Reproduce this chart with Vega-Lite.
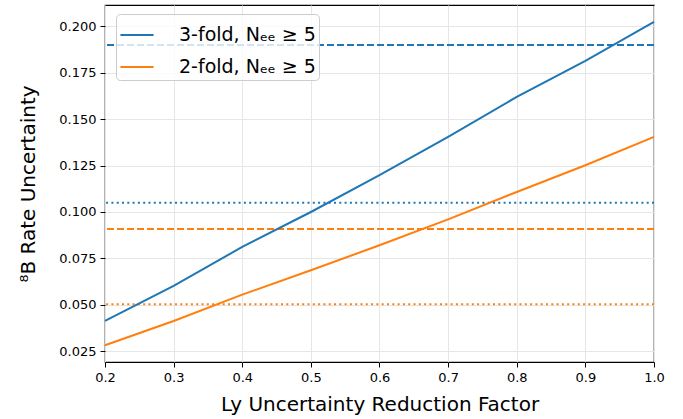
{
  "$schema": "https://vega.github.io/schema/vega-lite/v6.json",
  "width": 549,
  "height": 357,
  "autosize": "none",
  "padding": {"left": 105, "top": 5, "right": 29, "bottom": 57},
  "background": "white",
  "config": {
    "font": "DejaVu Sans",
    "view": {"stroke": "black", "strokeWidth": 1.2},
    "axis": {
      "domain": false,
      "grid": true,
      "gridColor": "#e6e6e6",
      "gridWidth": 1,
      "tickColor": "black",
      "tickSize": 5,
      "tickWidth": 1,
      "labelColor": "black",
      "labelFont": "DejaVu Sans",
      "labelFontSize": 13,
      "labelFlush": false,
      "titleFont": "DejaVu Sans",
      "titleFontSize": 20,
      "titleFontWeight": "normal",
      "titleColor": "black"
    }
  },
  "datasets": {
    "lines": [
      {"x": 0.2, "y": 0.0413, "series": "3-fold, Nₑₑ ≥ 5"},
      {"x": 0.3, "y": 0.0602, "series": "3-fold, Nₑₑ ≥ 5"},
      {"x": 0.4, "y": 0.0812, "series": "3-fold, Nₑₑ ≥ 5"},
      {"x": 0.5, "y": 0.1000, "series": "3-fold, Nₑₑ ≥ 5"},
      {"x": 0.6, "y": 0.1198, "series": "3-fold, Nₑₑ ≥ 5"},
      {"x": 0.7, "y": 0.1405, "series": "3-fold, Nₑₑ ≥ 5"},
      {"x": 0.8, "y": 0.1620, "series": "3-fold, Nₑₑ ≥ 5"},
      {"x": 0.9, "y": 0.1814, "series": "3-fold, Nₑₑ ≥ 5"},
      {"x": 1.0, "y": 0.2024, "series": "3-fold, Nₑₑ ≥ 5"},
      {"x": 0.2, "y": 0.0282, "series": "2-fold, Nₑₑ ≥ 5"},
      {"x": 0.3, "y": 0.0413, "series": "2-fold, Nₑₑ ≥ 5"},
      {"x": 0.4, "y": 0.0555, "series": "2-fold, Nₑₑ ≥ 5"},
      {"x": 0.5, "y": 0.0686, "series": "2-fold, Nₑₑ ≥ 5"},
      {"x": 0.6, "y": 0.0821, "series": "2-fold, Nₑₑ ≥ 5"},
      {"x": 0.7, "y": 0.0960, "series": "2-fold, Nₑₑ ≥ 5"},
      {"x": 0.8, "y": 0.1108, "series": "2-fold, Nₑₑ ≥ 5"},
      {"x": 0.9, "y": 0.1252, "series": "2-fold, Nₑₑ ≥ 5"},
      {"x": 1.0, "y": 0.1405, "series": "2-fold, Nₑₑ ≥ 5"}
    ],
    "rules": [
      {"y": 0.190, "series": "3-fold, Nₑₑ ≥ 5", "style": "dashed"},
      {"y": 0.105, "series": "3-fold, Nₑₑ ≥ 5", "style": "dotted"},
      {"y": 0.0908, "series": "2-fold, Nₑₑ ≥ 5", "style": "dashed"},
      {"y": 0.0503, "series": "2-fold, Nₑₑ ≥ 5", "style": "dotted"}
    ]
  },
  "layer": [
    {
      "data": {"name": "rules"},
      "mark": {"type": "rule", "strokeWidth": 2},
      "encoding": {
        "y": {"field": "y", "type": "quantitative"},
        "color": {"field": "series", "type": "nominal"},
        "strokeDash": {
          "field": "style",
          "type": "nominal",
          "scale": {"domain": ["dashed", "dotted"], "range": [[7, 3], [2, 3.3]]},
          "legend": null
        }
      }
    },
    {
      "data": {"name": "lines"},
      "mark": {"type": "line", "strokeWidth": 2},
      "encoding": {
        "x": {
          "field": "x",
          "type": "quantitative",
          "title": "Ly Uncertainty Reduction Factor",
          "scale": {"domain": [0.2, 1.0], "nice": false, "zero": false},
          "axis": {
            "values": [0.2, 0.3, 0.4, 0.5, 0.6, 0.7, 0.8, 0.9, 1.0],
            "format": ".1f",
            "labelPadding": 4,
            "titlePadding": 10
          }
        },
        "y": {
          "field": "y",
          "type": "quantitative",
          "title": "⁸B Rate Uncertainty",
          "scale": {"domain": [0.0192, 0.2115], "nice": false, "zero": false},
          "axis": {
            "values": [0.025, 0.05, 0.075, 0.1, 0.125, 0.15, 0.175, 0.2],
            "format": ".3f",
            "labelPadding": 4,
            "titlePadding": 20
          }
        },
        "color": {
          "field": "series",
          "type": "nominal",
          "sort": ["3-fold, Nₑₑ ≥ 5", "2-fold, Nₑₑ ≥ 5"],
          "scale": {"domain": ["3-fold, Nₑₑ ≥ 5", "2-fold, Nₑₑ ≥ 5"], "range": ["#1f77b4", "#ff7f0e"]},
          "legend": {
            "title": null,
            "orient": "none",
            "legendX": 11,
            "legendY": 9,
            "symbolType": "stroke",
            "symbolSize": 1100,
            "symbolStrokeWidth": 2,
            "labelFontSize": 19,
            "labelFont": "DejaVu Sans",
            "labelColor": "black",
            "labelOffset": 24,
            "rowPadding": 4,
            "padding": 3,
            "fillColor": "rgba(255,255,255,0.8)",
            "strokeColor": "#cccccc",
            "cornerRadius": 4
          }
        }
      }
    }
  ]
}
